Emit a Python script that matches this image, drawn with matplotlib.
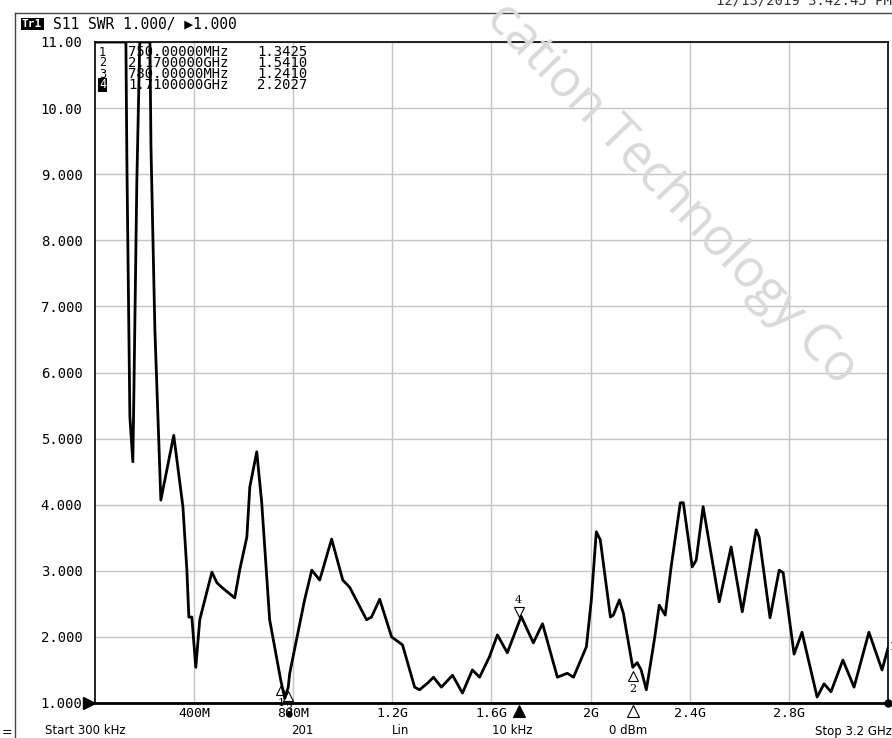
import matplotlib
matplotlib.use("Agg")
import matplotlib.pyplot as plt

# trace (MHz, SWR); the analyser clamps the display at 11
freq_mhz = [0.3, 125, 129, 141, 153, 157, 169, 181, 222, 226, 242, 266, 318, 355, 371,
            379, 391, 407, 423, 472, 492, 512, 564, 584, 613, 625, 653, 673, 705, 750,
            766, 780, 786, 846, 875, 907, 955, 1000, 1028, 1096, 1116, 1149, 1197, 1241,
            1290, 1310, 1342, 1366, 1398, 1443, 1483, 1523, 1552, 1592, 1624, 1664, 1720,
            1769, 1806, 1866, 1906, 1931, 1983, 2003, 2023, 2039, 2080, 2092, 2116, 2132,
            2170, 2188, 2204, 2225, 2257, 2277, 2301, 2325, 2362, 2374, 2410, 2426, 2454,
            2519, 2567, 2612, 2668, 2680, 2724, 2761, 2777, 2821, 2853, 2914, 2942, 2970,
            3018, 3063, 3123, 3176, 3200]
swr = [11.0, 11.0, 9.18, 5.33, 4.65, 5.63, 8.87, 11.0, 11.0, 9.44, 6.64, 4.07, 5.05, 3.97,
       3.01, 2.30, 2.30, 1.54, 2.26, 2.98, 2.82, 2.75, 2.59, 3.01, 3.51, 4.27, 4.80, 4.03,
       2.26, 1.34, 1.07, 1.24, 1.45, 2.56, 3.01, 2.86, 3.48, 2.86, 2.75, 2.26, 2.30, 2.57,
       2.00, 1.88, 1.24, 1.20, 1.30, 1.39, 1.24, 1.42, 1.15, 1.50, 1.39, 1.70, 2.03, 1.76,
       2.31, 1.91, 2.20, 1.39, 1.45, 1.39, 1.85, 2.56, 3.59, 3.47, 2.30, 2.33, 2.56, 2.36,
       1.54, 1.61, 1.50, 1.20, 1.95, 2.48, 2.33, 3.06, 4.03, 4.03, 3.06, 3.16, 3.97, 2.53,
       3.36, 2.38, 3.62, 3.51, 2.29, 3.01, 2.97, 1.74, 2.07, 1.09, 1.29, 1.17, 1.65, 1.24,
       2.07, 1.50, 1.83]

marker_ids = ["1", "2", "3", "4"]
marker_freq = [750, 2170, 780, 1710]
marker_swr = [1.3425, 1.5410, 1.2410, 2.2027]
marker_freq_txt = ["750.00000MHz", "2.1700000GHz", "780.00000MHz", "1.7100000GHz"]
marker_val_txt = ["1.3425", "1.5410", "1.2410", "2.2027"]
active_marker = "4"

y_ticks = [1, 2, 3, 4, 5, 6, 7, 8, 9, 10, 11]
y_labels = ["1.000", "2.000", "3.000", "4.000", "5.000", "6.000", "7.000", "8.000", "9.000", "10.00", "11.00"]
x_ticks = [400, 800, 1200, 1600, 2000, 2400, 2800]
x_labels = ["400M", "800M", "1.2G", "1.6G", "2G", "2.4G", "2.8G"]

W, H = 892, 738
MONO = "DejaVu Sans Mono"
SANS = "DejaVu Sans"


def px(x, y):
    return x / W, 1 - y / H


fig = plt.figure(figsize=(W / 100, H / 100), dpi=100)
L, R, T, B = 95, 888, 42, 703
ax = fig.add_axes([L / W, 1 - B / H, (R - L) / W, (B - T) / H])
ax.set_xlim(0.3, 3200)
ax.set_ylim(1, 11)

ax.set_xticks(x_ticks)
ax.set_xticklabels(x_labels, family=MONO, fontsize=9.5)
ax.set_yticks(y_ticks)
ax.set_yticklabels(y_labels, family=MONO, fontsize=10)
ax.tick_params(length=0)
ax.tick_params(axis="y", pad=9)
ax.tick_params(axis="x", pad=3)
ax.grid(color="#c4c4c4", lw=1.0)
for s in ax.spines.values():
    s.set_linewidth(1.2)
ax.spines["bottom"].set_linewidth(2.0)

# faint watermark across the screen
fig.text(*px(494, 10), "cation Technology Co", rotation=-46, rotation_mode="anchor",
         ha="left", va="center", fontsize=37, color="#d9d9d9", family="Open Sans")

ax.plot(freq_mhz, swr, color="black", lw=2.0, zorder=5)

# markers on the trace
for mid, f, v in zip(marker_ids, marker_freq, marker_swr):
    if mid == active_marker:
        ax.plot(f, v + 0.17, marker="v", ms=7, mfc="none", mec="black", mew=0.8, zorder=6)
        ax.annotate(mid, (f, v), xytext=(0, 17), textcoords="offset points",
                    ha="center", va="center", fontsize=8, family="DejaVu Serif")
    else:
        ax.plot(f, v - 0.14, marker="^", ms=7, mfc="none", mec="black", mew=0.8, zorder=6)
        ax.annotate(mid, (f, v), xytext=(0, -16), textcoords="offset points",
                    ha="center", va="center", fontsize=8, family="DejaVu Serif")

# marker indicators under the axis (markers 1 and 3 sit behind the 800M label)
xt = ax.get_xaxis_transform()
for mid, f in zip(marker_ids, marker_freq):
    if mid in ("2", active_marker):
        filled = mid == active_marker
        ax.plot(f, -0.012, marker="^", ms=9, transform=xt, clip_on=False,
                mfc="black" if filled else "white", mec="black", mew=0.8, zorder=7)
ax.plot(785, -0.016, marker="o", ms=3.5, color="black", transform=xt, clip_on=False, zorder=7)

# reference level arrow, end dot
ax.plot(-0.008, 0, marker=">", ms=9, color="black", transform=ax.transAxes, clip_on=False)
ax.plot(1.0, 0, marker="o", ms=5, color="black", transform=ax.transAxes, clip_on=False)
ax.text(1.002, (B - 647) / (B - T), "1", transform=ax.transAxes, fontsize=7,
        ha="left", va="center", family=MONO)

# marker table
rows_y = [52, 63, 74, 85]
for y, mid, ftxt, val in zip(rows_y, marker_ids, marker_freq_txt, marker_val_txt):
    if mid == active_marker:
        fig.text(*px(99, y), mid, fontsize=8.5, family=MONO, va="center", color="white",
                 bbox=dict(facecolor="black", edgecolor="none", pad=0.4))
    else:
        fig.text(*px(99, y), mid, fontsize=8.5, family=MONO, va="center")
    fig.text(*px(128, y), ftxt, fontsize=10, family=MONO, va="center")
    fig.text(*px(257, y), val, fontsize=10, family=MONO, va="center")

# header
fig.text(*px(22, 24), "Tr1", fontsize=8, family=MONO, weight="bold", color="white",
         va="center", bbox=dict(facecolor="black", edgecolor="none", pad=1))
fig.text(*px(53, 24), "S11 SWR 1.000/ \u25b61.000", fontsize=10.5, family=MONO, va="center")
fig.text(*px(716, 0), "12/13/2019 3:42:45 PM", fontsize=10, family=MONO, va="center",
         color="#333333")

# screen frame
fig.add_artist(plt.Line2D([15 / W, 1], [1 - 13 / H] * 2, color="#444444", lw=1.0))
fig.add_artist(plt.Line2D([15 / W] * 2, [0, 1 - 13 / H], color="#444444", lw=1.0))
fig.text(*px(2, 733), "=", fontsize=9, va="center")

# status line
fig.text(*px(45, 731), "Start 300 kHz", fontsize=8.5, family=SANS, va="center")
fig.text(*px(302, 731), "201", fontsize=8.5, family=SANS, va="center", ha="center")
fig.text(*px(401, 731), "Lin", fontsize=8.5, family=SANS, va="center", ha="center")
fig.text(*px(512, 731), "10 kHz", fontsize=8.5, family=SANS, va="center", ha="center")
fig.text(*px(628, 731), "0 dBm", fontsize=8.5, family=SANS, va="center", ha="center")
fig.text(*px(815, 731), "Stop 3.2 GHz", fontsize=8.5, family=SANS, va="center")

fig.savefig("out.png", dpi=100)
